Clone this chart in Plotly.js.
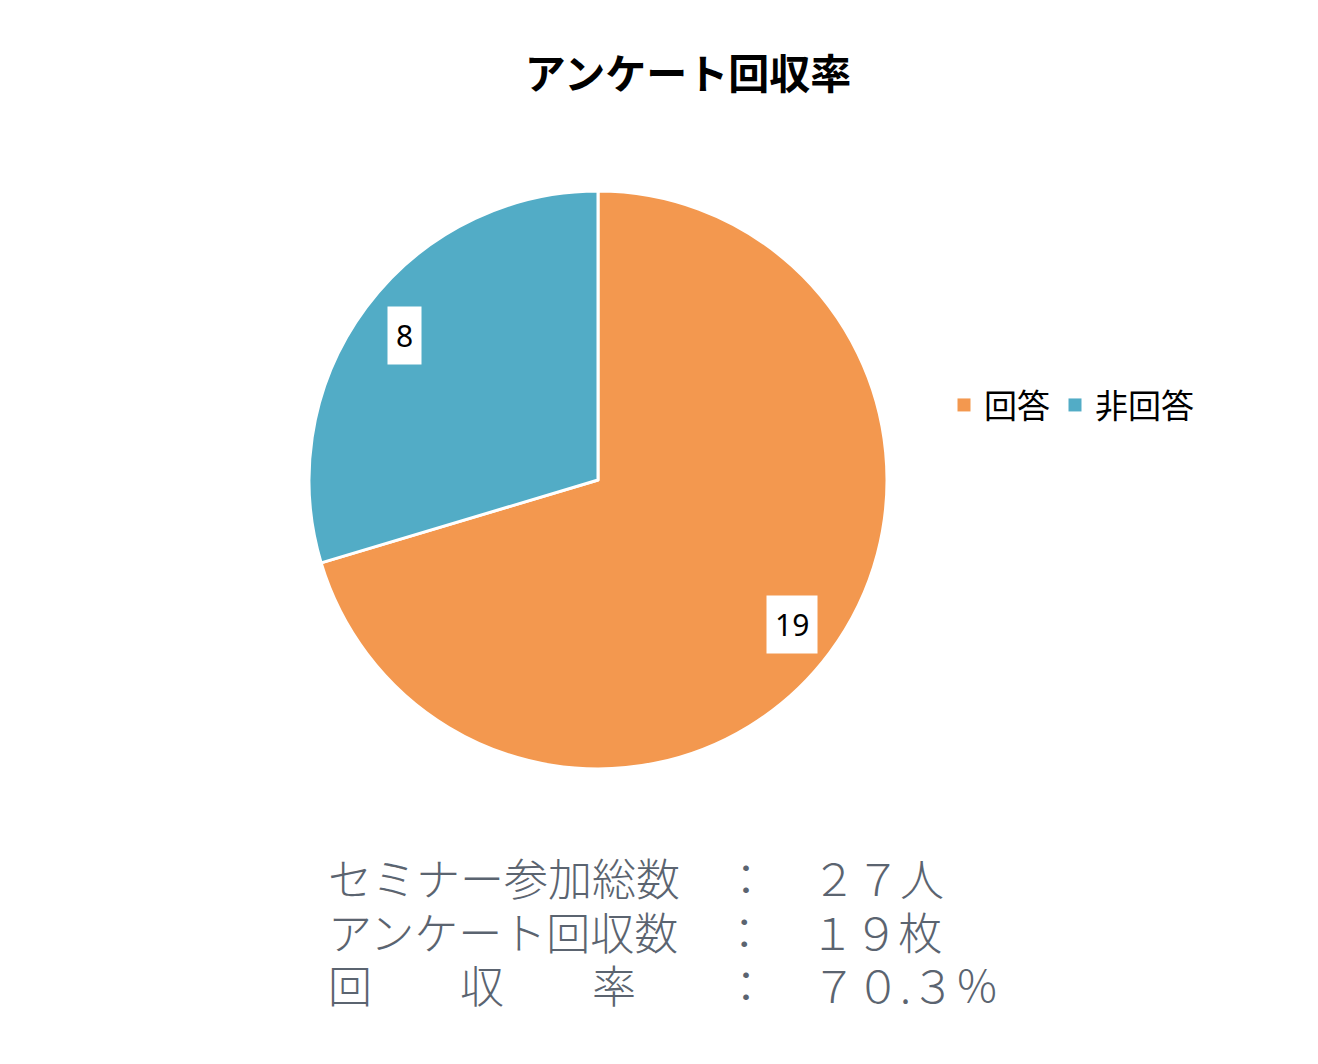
<!DOCTYPE html>
<html>
<head>
<meta charset="utf-8">
<script src="https://cdn.plot.ly/plotly-3.0.1.min.js"></script>
<style>html,body{margin:0;padding:0;background:#fff;}#chart{width:1318px;height:1064px;}</style>
</head>
<body>
<div id="chart"></div>
<script>
const categories = ["回答", "非回答"];
const values = [19, 8];
const colors = ["#F3984F", "#52ACC6"];
const chartTitle = "アンケート回収率";
const summaryLines = [
  "セミナー参加総数　：　２７人",
  "アンケート回収数　：　１９枚",
  "回　　収　　率　　：　７０.３％"
];

const W = 1318, H = 1064;
const cx = 598, cy = 480, R = 289;
const domX = [(cx - R) / W, (cx + R) / W];
const domY = [(H - cy - R) / H, (H - cy + R) / H];

// label annotations positioned from data angles (clockwise from 12 o'clock)
const total = values.reduce((a, b) => a + b, 0);
const annotations = [];
let acc = 0;
values.forEach((v, i) => {
  const mid = (acc + v / 2) / total * 2 * Math.PI;
  acc += v;
  const r = 0.835 * R;
  const px = cx + r * Math.sin(mid);
  const py = cy - r * Math.cos(mid);
  annotations.push({
    x: px / W, y: (H - py) / H, xref: "paper", yref: "paper",
    xanchor: "center", yanchor: "middle",
    text: String(v), showarrow: false,
    font: {family: "Noto Sans, Open Sans, sans-serif", size: 30, color: "#000"},
    bgcolor: "#ffffff", borderpad: 8
  });
});

summaryLines.forEach((t, i) => {
  annotations.push({
    x: 327 / W, y: (H - (877 + i * 53.5)) / H, xref: "paper", yref: "paper",
    xanchor: "left", yanchor: "middle", text: t, showarrow: false, align: "left",
    borderpad: 0, height: 50, valign: "middle",
    font: {family: "Noto Sans CJK JP, sans-serif", size: 44, color: "#5B6470", weight: 300}
  });
});

const data = [{
  type: "pie",
  labels: categories,
  values: values,
  sort: false,
  direction: "clockwise",
  rotation: 0,
  marker: {colors: colors, line: {color: "#ffffff", width: 3}},
  textinfo: "none",
  hoverinfo: "label+value",
  showlegend: false,
  domain: {x: domX, y: domY}
}];
// legend entries for the pie categories
categories.forEach((c, i) => {
  data.push({
    type: "scatter", mode: "markers", x: [null], y: [null], name: c,
    marker: {symbol: "square", size: 13, color: colors[i]},
    showlegend: true, hoverinfo: "skip"
  });
});

const layout = {
  width: W, height: H,
  margin: {l: 0, r: 0, t: 0, b: 0},
  paper_bgcolor: "#ffffff",
  plot_bgcolor: "rgba(0,0,0,0)",
  xaxis: {visible: false},
  yaxis: {visible: false},
  showlegend: true,
  title: {
    text: chartTitle, x: 688 / W, xanchor: "center", y: (H - 75) / H, yanchor: "middle",
    font: {family: "Noto Sans CJK JP, sans-serif", size: 41, color: "#000", weight: 700}
  },
  legend: {
    orientation: "h", x: 944 / W, xanchor: "left", y: (H - 405) / H, yanchor: "middle",
    font: {family: "Noto Sans CJK JP, sans-serif", size: 33, color: "#000"},
    itemwidth: 30, tracegroupgap: 0
  },
  annotations: annotations
};

Plotly.newPlot("chart", data, layout, {displayModeBar: false, staticPlot: true});
</script>
</body>
</html>
